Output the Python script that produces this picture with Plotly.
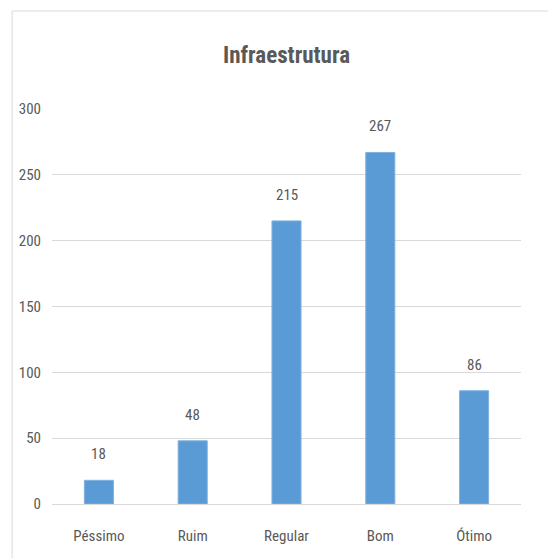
import plotly.graph_objects as go

categories = ["Péssimo", "Ruim", "Regular", "Bom", "Ótimo"]
values = [18, 48, 215, 267, 86]
y_ticks = [0, 50, 100, 150, 200, 250, 300]

FONT = "Liberation Sans Narrow, Arial Narrow, Roboto Condensed, sans-serif"
TEXT = "#595959"
BAR = "#5B9BD5"
GRID = "#D9D9D9"

fig = go.Figure(
    go.Bar(
        x=categories,
        y=values,
        marker=dict(color=BAR, line=dict(color="#7FB2E0", width=1)),
        width=0.31,
        hoverinfo="x+y",
    )
)

# value labels above each bar
for cat, val in zip(categories, values):
    fig.add_annotation(
        x=cat, y=val, text=str(val), showarrow=False,
        yanchor="bottom", yshift=15,
        font=dict(family=FONT, size=15, color=TEXT),
    )

# chart area frame
fig.add_shape(
    type="rect", xref="paper", yref="paper",
    x0=-0.085, x1=1.2, y0=-0.2, y1=1.248,
    line=dict(color="#D9D9D9", width=1), layer="below",
)

fig.update_layout(
    width=548, height=558,
    margin=dict(l=52, r=27, t=109, b=54),
    paper_bgcolor="white", plot_bgcolor="white",
    showlegend=False,
    title=dict(
        text="<b>Infraestrutura</b>", x=0.5, xref="paper", xanchor="center",
        y=1 - 55 / 558, yanchor="middle",
        font=dict(family=FONT, size=23, color=TEXT),
    ),
    xaxis=dict(
        showgrid=False, showline=False, ticks="",
        tickfont=dict(family=FONT, size=15, color=TEXT),
        ticklabelstandoff=21,
    ),
    yaxis=dict(
        range=[0, 300], tickvals=y_ticks,
        showgrid=True, gridcolor=GRID, gridwidth=1,
        zeroline=True, zerolinecolor=GRID, zerolinewidth=1,
        showline=False, ticks="",
        tickfont=dict(family=FONT, size=15, color=TEXT),
        ticklabelstandoff=10,
    ),
)

fig.write_html("out.html")
